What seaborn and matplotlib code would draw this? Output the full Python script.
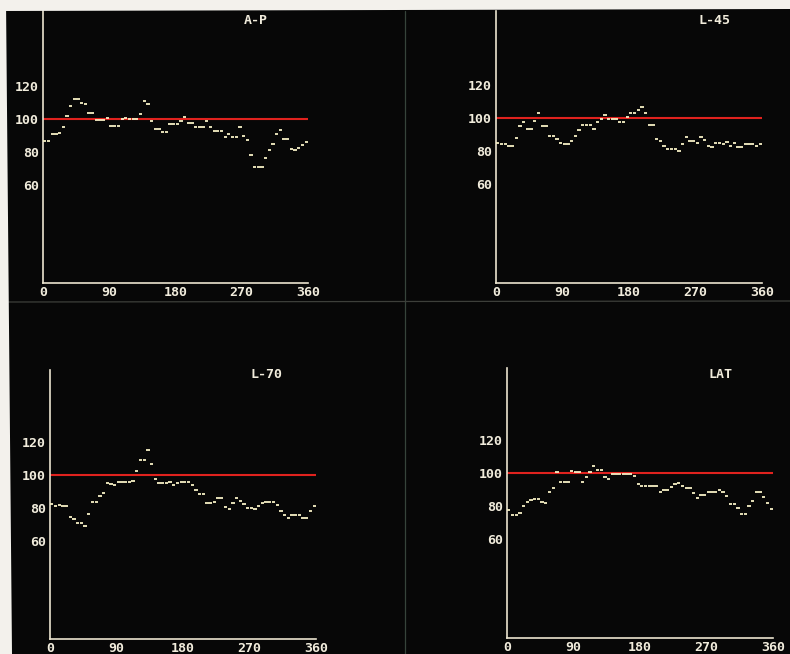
import numpy as np
import pandas as pd
import matplotlib
matplotlib.use("Agg")
import matplotlib.pyplot as plt
from matplotlib.patches import Polygon
import seaborn as sns

# ---------------- data ----------------
angles = list(range(0, 360, 5))          # start of each 5-degree bin
x_ticks = [0, 90, 180, 270, 360]
y_ticks = [60, 80, 100, 120]
reference_level = 100
titles = ["A-P", "L-45", "L-70", "LAT"]

ap = [86.6, 86.6, 90.7, 90.7, 91.7, 95, 102, 108, 112, 112, 110, 109,
      104, 104, 99.6, 99.6, 99.6, 101, 96, 96, 96, 100, 101, 100,
      100, 100, 103, 111, 109, 99, 94, 94, 92, 92, 97, 97,
      97, 99, 101.6, 97.5, 97.5, 95, 95, 95, 99, 95, 93, 93,
      93, 89, 90.7, 89, 89, 95, 90, 87, 78, 71, 71, 71,
      76, 81, 85, 90.7, 93.4, 88, 88, 81.6, 81, 82.5, 84, 86]

l45 = [85.2, 84.2, 84.2, 83.4, 83.4, 88.2, 95, 97.6, 93.3, 93.3, 98.4, 103.4,
       95, 95, 89.2, 89.2, 87.4, 85, 84.2, 84.2, 86, 89.2, 92.7, 96.1,
       96.1, 96.1, 93.3, 97.8, 99.4, 102, 99.6, 99.6, 99.6, 97.8, 97.8, 101,
       103.4, 103.4, 105, 107, 103.4, 96, 96, 87.6, 86, 83.4, 81, 81.5,
       81.5, 80.3, 84.2, 88.4, 86.2, 86.2, 85.2, 88.4, 86.6, 83.4, 82.6, 85.2,
       85.2, 84.4, 85.8, 83.4, 85, 82.4, 82.4, 84.2, 84.2, 84.2, 83.4, 84.2]

l70 = [82.5, 81.3, 82, 81.3, 81.3, 74.5, 73, 70.7, 70.7, 68.7, 76.3, 83.7,
       83.7, 87.3, 89, 95.4, 94.6, 93.8, 95.8, 95.8, 95.8, 95.8, 96.6, 102.4,
       109, 109, 115.5, 106.4, 97.4, 95, 95, 95, 95.8, 94, 95, 95.8,
       95.8, 95.8, 93.8, 90.6, 88.4, 88.4, 83, 83, 83.7, 86, 86, 80.3,
       79, 82.7, 86, 84.3, 82.5, 80, 80, 79, 81, 83, 83.5, 83.5,
       83.5, 82, 78, 75.4, 73.7, 75.4, 75.4, 75.4, 73.7, 73.7, 78, 81.3]

lat = [77.6, 75, 75, 76, 80.4, 82.9, 83.7, 84.7, 84.7, 82.7, 81.8, 88.8,
       91.4, 100.6, 94.7, 94.7, 94.7, 101.6, 100.8, 100.8, 94.9, 97.6, 100.8, 104.5,
       101.8, 101.8, 97.6, 96.7, 99.4, 99.4, 99.4, 99.4, 99.4, 99.4, 98.4, 93.5,
       92.4, 92.4, 92.4, 92.4, 92.4, 88.4, 90.2, 90.2, 92, 93.5, 94.3, 92.2,
       91.4, 91.4, 88.2, 85.3, 86.7, 86.7, 88.4, 88.4, 88.4, 90.2, 88.4, 86.5,
       81.6, 81.6, 79.2, 75.5, 75.5, 80, 83.3, 88.6, 88.6, 85.9, 81.8, 78.4]

series = [ap, l45, l70, lat]

# ---------------- style ----------------
sns.set_style("dark")
plt.rcParams["font.family"] = ["DejaVu Sans Mono", "DejaVu Sans"]

BG = "#070707"
AXIS = "#ebe4cf"
TEXT = "#f1ecdc"
DASH = "#f6efc4"
RED = "#e0221e"

W, H = 790, 654
fig = plt.figure(figsize=(W / 100, H / 100), dpi=100, facecolor=BG)

def px_rect(x0, x360, ybot, ytop):
    return [x0 / W, 1 - ybot / H, (x360 - x0) / W, (ybot - ytop) / H]

rects = [px_rect(43, 308, 283, 11),
         px_rect(496, 762, 283, 11),
         px_rect(50, 316, 639, 370),
         px_rect(507, 773, 638, 368)]
ytops = [166, 165, 164, 164]
title_pos = [(256, 20), (714, 20), (267, 375), (720, 374)]

# divider lines of the screen
fig.add_artist(plt.Line2D([405 / W, 405 / W], [0, 1 - 11 / H],
                          color="#36433a", lw=0.9, transform=fig.transFigure))
fig.add_artist(plt.Line2D([8 / W, 1], [1 - 302 / H, 1 - 301 / H],
                          color="#3d3f3a", lw=0.9, transform=fig.transFigure))

for k, (vals, rect, ytop, title) in enumerate(zip(series, rects, ytops, titles)):
    ax = fig.add_axes(rect)
    ax.set_facecolor("none")
    df = pd.DataFrame({"angle": angles, "value": vals})
    # each bin drawn as a short horizontal dash
    ax.hlines(df["value"], df["angle"] + 0.3, df["angle"] + 4.7,
              colors=DASH, lw=1.3, zorder=3)
    ref = pd.DataFrame({"angle": [0, 360], "value": [reference_level] * 2})
    sns.lineplot(data=ref, x="angle", y="value", ax=ax, color=RED, lw=1.5,
                 zorder=2)
    ax.set_xlim(0, 360)
    ax.set_ylim(0, ytop)
    ax.set_xticks(x_ticks)
    ax.set_xticklabels([str(t) for t in x_ticks])
    ax.set_yticks(y_ticks)
    ax.set_yticklabels([str(t) for t in y_ticks])
    ax.set_xlabel("")
    ax.set_ylabel("")
    ax.grid(False)
    for s in ["top", "right"]:
        ax.spines[s].set_visible(False)
    for s in ["left", "bottom"]:
        ax.spines[s].set_visible(True)
        ax.spines[s].set_color(AXIS)
        ax.spines[s].set_linewidth(1.2)
    ax.tick_params(axis="x", direction="in", length=2, width=1, color=AXIS,
                   labelcolor=TEXT, labelsize=9.5, pad=2)
    ax.tick_params(axis="y", direction="out", length=2, width=1, color=AXIS,
                   labelcolor=TEXT, labelsize=9.5, pad=1)
    for lab in ax.get_xticklabels() + ax.get_yticklabels():
        lab.set_fontweight("bold")
    tx, ty = title_pos[k]
    fig.text(tx / W, 1 - ty / H, title, color=TEXT, fontsize=9.5,
             fontweight="bold", ha="center", va="center")

# photo border (white margin at top and left)
fig.add_artist(Polygon([[0, 1], [1, 1], [1, 1 - 9 / H], [0, 1 - 11 / H]],
                       closed=True, facecolor="#f3f1ec", edgecolor="none",
                       transform=fig.transFigure, zorder=10))
fig.add_artist(Polygon([[0, 1], [6 / W, 1], [12 / W, 0], [0, 0]],
                       closed=True, facecolor="#f3f1ec", edgecolor="none",
                       transform=fig.transFigure, zorder=10))

fig.savefig("out.png", dpi=100, facecolor=BG)
